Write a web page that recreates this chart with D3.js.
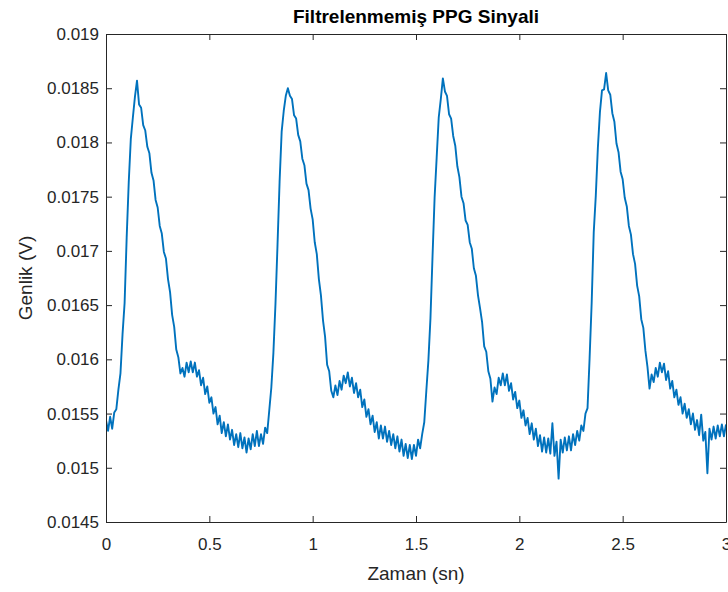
<!DOCTYPE html>
<html>
<head>
<meta charset="utf-8">
<script src="https://cdn.jsdelivr.net/npm/d3@7"></script>
<style>
    body { margin: 0; background: #fff; }
    #chart { width: 728px; height: 592px; }
    text { font-family: "Liberation Sans", Arial, Helvetica, sans-serif; }
</style>
</head>
<body>
<div id="chart"></div>
<script>
// sampling step of the recorded signal (s)
const sampleStep = 0.01;

// unfiltered PPG amplitude (V), one value per sample
const amplitude = [
    0.01544, 0.01534, 0.01547, 0.01536, 0.01551, 0.01554, 0.01572, 0.01587, 0.01623, 0.01652,
    0.01712, 0.01763, 0.01803, 0.01823, 0.01842, 0.01857, 0.01835, 0.01832, 0.01816, 0.01811,
    0.01796, 0.01790, 0.01772, 0.01765, 0.01747, 0.01740, 0.01723, 0.01716, 0.01699, 0.01693,
    0.01674, 0.01662, 0.01641, 0.01630, 0.01609, 0.01602, 0.01587, 0.01592, 0.01584, 0.01597,
    0.01588, 0.01598, 0.01588, 0.01597, 0.01584, 0.01590, 0.01576, 0.01583, 0.01568, 0.01575,
    0.01560, 0.01565, 0.01550, 0.01556, 0.01540, 0.01548, 0.01532, 0.01542, 0.01529, 0.01540,
    0.01526, 0.01535, 0.01521, 0.01531, 0.01519, 0.01532, 0.01518, 0.01528, 0.01514, 0.01527,
    0.01517, 0.01531, 0.01520, 0.01534, 0.01520, 0.01531, 0.01522, 0.01537, 0.01532, 0.01553,
    0.01574, 0.01606, 0.01651, 0.01706, 0.01764, 0.01810, 0.01829, 0.01843, 0.01850, 0.01843,
    0.01840, 0.01825, 0.01822, 0.01807, 0.01801, 0.01785, 0.01779, 0.01762, 0.01756, 0.01739,
    0.01729, 0.01708, 0.01697, 0.01674, 0.01659, 0.01636, 0.01621, 0.01595, 0.01589, 0.01571,
    0.01565, 0.01576, 0.01567, 0.01580, 0.01572, 0.01585, 0.01578, 0.01588, 0.01575, 0.01583,
    0.01569, 0.01578, 0.01565, 0.01572, 0.01556, 0.01563, 0.01547, 0.01554, 0.01540, 0.01548,
    0.01533, 0.01542, 0.01527, 0.01539, 0.01527, 0.01538, 0.01524, 0.01534, 0.01521, 0.01531,
    0.01518, 0.01529, 0.01515, 0.01526, 0.01511, 0.01522, 0.01509, 0.01521, 0.01508, 0.01521,
    0.01511, 0.01526, 0.01518, 0.01531, 0.01542, 0.01571, 0.01599, 0.01638, 0.01695, 0.01749,
    0.01786, 0.01823, 0.01840, 0.01859, 0.01847, 0.01843, 0.01826, 0.01822, 0.01806, 0.01797,
    0.01778, 0.01768, 0.01750, 0.01744, 0.01728, 0.01724, 0.01708, 0.01702, 0.01684, 0.01677,
    0.01659, 0.01647, 0.01634, 0.01612, 0.01607, 0.01589, 0.01582, 0.01561, 0.01574, 0.01568,
    0.01583, 0.01576, 0.01587, 0.01576, 0.01586, 0.01571, 0.01578, 0.01563, 0.01570, 0.01555,
    0.01562, 0.01546, 0.01553, 0.01539, 0.01546, 0.01531, 0.01541, 0.01526, 0.01536, 0.01520,
    0.01530, 0.01515, 0.01528, 0.01514, 0.01527, 0.01513, 0.01541, 0.01511, 0.01524, 0.01490,
    0.01526, 0.01514, 0.01528, 0.01516, 0.01529, 0.01516, 0.01531, 0.01521, 0.01534, 0.01525,
    0.01539, 0.01534, 0.01550, 0.01555, 0.01601, 0.01652, 0.01717, 0.01751, 0.01795, 0.01828,
    0.01848, 0.01849, 0.01864, 0.01848, 0.01844, 0.01827, 0.01819, 0.01799, 0.01791, 0.01773,
    0.01766, 0.01749, 0.01741, 0.01723, 0.01715, 0.01697, 0.01688, 0.01668, 0.01658, 0.01637,
    0.01629, 0.01608, 0.01593, 0.01573, 0.01586, 0.01579, 0.01592, 0.01584, 0.01597, 0.01588,
    0.01596, 0.01581, 0.01589, 0.01573, 0.01580, 0.01565, 0.01572, 0.01558, 0.01565, 0.01550,
    0.01559, 0.01546, 0.01554, 0.01540, 0.01550, 0.01535, 0.01544, 0.01530, 0.01549, 0.01525,
    0.01533, 0.01495, 0.01536, 0.01526, 0.01538, 0.01527, 0.01539, 0.01529, 0.01540, 0.01529,
    0.01540
];

// axis ticks
const xTicks = [0, 0.5, 1, 1.5, 2, 2.5, 3];
const yTicks = [0.0145, 0.015, 0.0155, 0.016, 0.0165, 0.017, 0.0175, 0.018, 0.0185, 0.019];

// labels
const titleText = "Filtrelenmemiş PPG Sinyali";
const xLabel = "Zaman (sn)";
const yLabel = "Genlik (V)";

const w = 728, h = 592;
const margin = { top: 34, right: 2, bottom: 70, left: 106 };
const axisColor = "#262626";

const svg = d3.select("#chart").append("svg")
    .attr("width", w)
    .attr("height", h);

// SCALES
const x = d3.scaleLinear()
    .domain([xTicks[0], xTicks[xTicks.length - 1]])
    .range([margin.left, w - margin.right]);

const y = d3.scaleLinear()
    .domain([yTicks[0], yTicks[yTicks.length - 1]])
    .range([h - margin.bottom, margin.top]);

const data = amplitude.map((v, i) => ({ t: i * sampleStep, v: v }));

svg.append("clipPath").attr("id", "plotArea")
    .append("rect")
    .attr("x", x.range()[0])
    .attr("y", y.range()[1])
    .attr("width", x.range()[1] - x.range()[0])
    .attr("height", y.range()[0] - y.range()[1]);

// signal
svg.append("path")
    .datum(data)
    .attr("clip-path", "url(#plotArea)")
    .attr("fill", "none")
    .attr("stroke", "#0072BD")
    .attr("stroke-width", 1.9)
    .attr("stroke-linejoin", "round")
    .attr("d", d3.line().x(d => x(d.t)).y(d => y(d.v)));

// AXES (ticks inside, box on)
function styleAxis(g) {
    g.selectAll("path").attr("stroke", axisColor).attr("stroke-width", 1);
    g.selectAll("line").attr("stroke", axisColor).attr("stroke-width", 1);
    g.selectAll("text").attr("fill", axisColor).attr("font-size", 17)
        .style("font-family", "'Liberation Sans', Arial, sans-serif");
}

svg.append("g")
    .attr("transform", "translate(0," + y.range()[0] + ")")
    .call(d3.axisBottom(x).tickValues(xTicks).tickFormat(d => String(d))
        .tickSizeInner(-6).tickSizeOuter(0).tickPadding(16))
    .call(styleAxis);

svg.append("g")
    .attr("transform", "translate(0," + y.range()[1] + ")")
    .call(d3.axisTop(x).tickValues(xTicks).tickFormat("")
        .tickSizeInner(-6).tickSizeOuter(0))
    .call(styleAxis);

svg.append("g")
    .attr("transform", "translate(" + x.range()[0] + ",0)")
    .call(d3.axisLeft(y).tickValues(yTicks).tickFormat(d => String(d))
        .tickSizeInner(-6).tickSizeOuter(0).tickPadding(7))
    .call(styleAxis);

svg.append("g")
    .attr("transform", "translate(" + x.range()[1] + ",0)")
    .call(d3.axisRight(y).tickValues(yTicks).tickFormat("")
        .tickSizeInner(-6).tickSizeOuter(0))
    .call(styleAxis);

// TITLES
const cx = (x.range()[0] + x.range()[1]) / 2;
const cy = (y.range()[0] + y.range()[1]) / 2;

svg.append("text")
    .attr("x", cx)
    .attr("y", 23)
    .attr("text-anchor", "middle")
    .attr("font-size", 19)
    .attr("font-weight", "bold")
    .attr("fill", "#000")
    .text(titleText);

svg.append("text")
    .attr("x", cx)
    .attr("y", 580)
    .attr("text-anchor", "middle")
    .attr("font-size", 19)
    .attr("fill", axisColor)
    .text(xLabel);

svg.append("text")
    .attr("transform", "translate(32," + cy + ") rotate(-90)")
    .attr("text-anchor", "middle")
    .attr("font-size", 19)
    .attr("fill", axisColor)
    .text(yLabel);
</script>
</body>
</html>
